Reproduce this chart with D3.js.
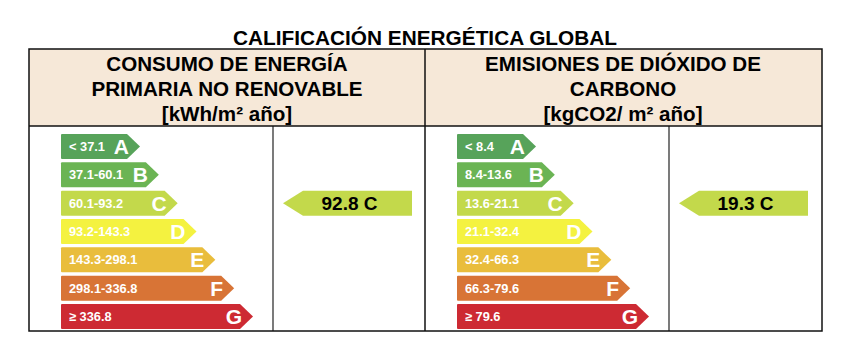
<!DOCTYPE html>
<html>
<head>
<meta charset="utf-8">
<script src="https://cdn.jsdelivr.net/npm/d3@7"></script>
<style>
  html, body { margin: 0; padding: 0; background: #fff; }
  svg { display: block; font-family: "Liberation Sans", Arial, Helvetica, sans-serif; }
</style>
</head>
<body>
<svg id="chart" width="850" height="355"></svg>
<script>
// ---- data ----
const title = "CALIFICACIÓN ENERGÉTICA GLOBAL";
const classes = ["A", "B", "C", "D", "E", "F", "G"];
const classColors = ["#57a35a", "#6bb454", "#c3d94b", "#f4f240", "#e9bd3c", "#d87436", "#cd2a33"];
const energyRanges = ["< 37.1", "37.1-60.1", "60.1-93.2", "93.2-143.3", "143.3-298.1", "298.1-336.8", "≥ 336.8"];
const co2Ranges = ["< 8.4", "8.4-13.6", "13.6-21.1", "21.1-32.4", "32.4-66.3", "66.3-79.6", "≥ 79.6"];
const energyHeader = ["CONSUMO DE ENERGÍA", "PRIMARIA NO RENOVABLE", "[kWh/m² año]"];
const co2Header = ["EMISIONES DE DIÓXIDO DE", "CARBONO", "[kgCO2/ m² año]"];
const energyValue = 92.8, energyClass = "C";
const co2Value = 19.3, co2Class = "C";

const panels = [
  { header: energyHeader, ranges: energyRanges, value: energyValue, cls: energyClass },
  { header: co2Header, ranges: co2Ranges, value: co2Value, cls: co2Class }
];

// ---- layout ----
const svg = d3.select("#chart");
const tblL = 29, tblR = 822, tblT = 49, hdrB = 126, tblB = 331;
const panelW = 396;

const y = d3.scaleBand().domain(classes).range([134, 329]).paddingInner(0.12);
const tipX = d3.scaleLinear().domain([0, classes.length - 1]).range([140, 253]);
const color = d3.scaleOrdinal().domain(classes).range(classColors);
const panelX = d3.scaleBand().domain(d3.range(panels.length)).range([tblL, tblL + panelW * 2]);

// title
svg.append("text")
  .attr("x", 425).attr("y", 45)
  .attr("text-anchor", "middle")
  .attr("font-size", 20.8).attr("font-weight", "bold").attr("fill", "#000")
  .text(title);

// header background
svg.append("rect")
  .attr("x", tblL).attr("y", tblT)
  .attr("width", tblR - tblL).attr("height", hdrB - tblT)
  .attr("fill", "#f6e8d8");

const arrowTip = 13, indTip = 20, barLeft = 61;

panels.forEach((p, pi) => {
  const ox = panelX(pi) - tblL;
  const g = svg.append("g").attr("transform", `translate(${ox},0)`);

  // header text
  g.selectAll("text.hdr").data(p.header).join("text")
    .attr("class", "hdr")
    .attr("x", (tblL + tblL + panelW) / 2)
    .attr("y", (d, i) => 71 + i * 25)
    .attr("text-anchor", "middle")
    .attr("font-size", 20.6).attr("font-weight", "bold").attr("fill", "#000")
    .text(d => d);

  // class bars
  const bars = g.selectAll("g.bar").data(classes).join("g").attr("class", "bar");
  bars.append("path")
    .attr("d", (c, i) => {
      const t = y(c), h = y.bandwidth(), tip = tipX(i), end = tip - arrowTip;
      return `M${barLeft},${t + 1} Q${barLeft},${t} ${barLeft + 1},${t} L${end},${t} L${tip},${t + h / 2} L${end},${t + h} L${barLeft + 1},${t + h} Q${barLeft},${t + h} ${barLeft},${t + h - 1} Z`;
    })
    .attr("fill", c => color(c));
  bars.append("text")
    .attr("x", barLeft + 8)
    .attr("y", c => y(c) + y.bandwidth() / 2 + 4.5)
    .attr("font-size", 12.8).attr("font-weight", "bold").attr("fill", "#fff")
    .text((c, i) => p.ranges[i]);
  bars.append("text")
    .attr("x", (c, i) => tipX(i) - arrowTip + 2)
    .attr("y", c => y(c) + y.bandwidth() / 2 + 7.5)
    .attr("text-anchor", "end")
    .attr("font-size", 21).attr("font-weight", "bold").attr("fill", "#fff")
    .text(c => c);

  // indicator arrow
  const divX = 273;
  const t = y(p.cls), h = y.bandwidth();
  const tip = divX + 10, bodyStart = tip + indTip, bodyEnd = tblL + panelW - 13;
  g.append("path")
    .attr("d", `M${tip},${t + h / 2} L${bodyStart},${t} L${bodyEnd},${t} L${bodyEnd},${t + h} L${bodyStart},${t + h} Z`)
    .attr("fill", color(p.cls));
  g.append("text")
    .attr("x", (tip + bodyEnd) / 2 + 2)
    .attr("y", t + h / 2 + 7)
    .attr("text-anchor", "middle")
    .attr("font-size", 19).attr("font-weight", "bold").attr("fill", "#000")
    .text(`${p.value} ${p.cls}`);

  // inner divider
  g.append("line")
    .attr("x1", divX).attr("x2", divX)
    .attr("y1", hdrB).attr("y2", tblB)
    .attr("stroke", "#333").attr("stroke-width", 1.3);
});

// table lines
const lineCol = "#111";
svg.append("rect")
  .attr("x", tblL).attr("y", tblT)
  .attr("width", tblR - tblL).attr("height", tblB - tblT)
  .attr("fill", "none").attr("stroke", lineCol).attr("stroke-width", 1.5);
svg.append("line")
  .attr("x1", tblL).attr("x2", tblR).attr("y1", hdrB).attr("y2", hdrB)
  .attr("stroke", lineCol).attr("stroke-width", 1.5);
svg.append("line")
  .attr("x1", tblL + panelW).attr("x2", tblL + panelW).attr("y1", tblT).attr("y2", tblB)
  .attr("stroke", lineCol).attr("stroke-width", 1.5);
</script>
</body>
</html>
